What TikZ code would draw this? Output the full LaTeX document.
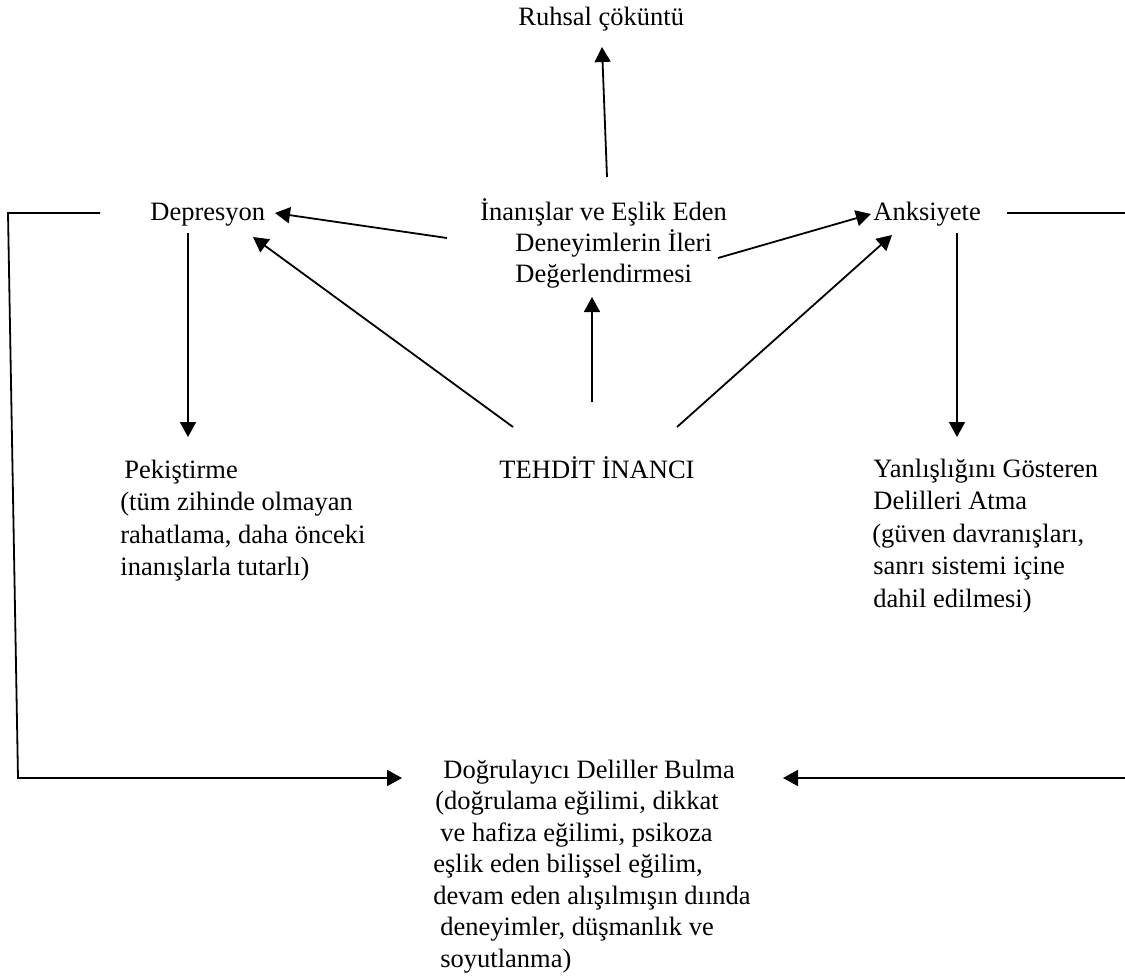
\documentclass[tikz,border=0pt]{standalone}
\usepackage{fontspec}
\setmainfont{Liberation Serif}
\usetikzlibrary{arrows.meta}
\begin{document}
\begin{tikzpicture}[x=0.5pt,y=-0.5pt,
  txt/.style={anchor=base west,inner sep=0pt,font=\fontsize{13.25pt}{16pt}\selectfont},
  link/.style={line width=0.9pt},
  arr/.style={link,-{Triangle[length=7.5pt,width=8pt]}}]
\useasboundingbox (0,0) rectangle (1125,980);

% top label
\node[txt] (ruhsal) at (518,25) {Ruhsal çöküntü};

% middle row
\node[txt] (dep) at (150,220) {Depresyon};
\node[txt] (inan1) at (480,220) {İnanışlar ve Eşlik Eden};
\node[txt] (inan2) at (515,251) {Deneyimlerin İleri};
\node[txt] (inan3) at (515,282) {Değerlendirmesi};
\node[txt] (anks) at (873,220) {Anksiyete};

% lower row
\node[txt] (pek1) at (124,478) {Pekiştirme};
\node[txt] (pek2) at (120,510) {(tüm zihinde olmayan};
\node[txt] (pek3) at (120,543) {rahatlama, daha önceki};
\node[txt] (pek4) at (120,575) {inanışlarla tutarlı)};

\node[txt,anchor=base] (tehdit) at (597,478) {TEHDİT İNANCI};

\node[txt] (yan1) at (873,477) {Yanlışlığını Gösteren};
\node[txt] (yan2) at (873,509.5) {Delilleri Atma};
\node[txt] (yan3) at (872,542) {(güven davranışları,};
\node[txt] (yan4) at (873,574.5) {sanrı sistemi içine};
\node[txt] (yan5) at (873,607) {dahil edilmesi)};

% bottom block
\node[txt] (dg1) at (443,778) {Doğrulayıcı Deliller Bulma};
\node[txt] (dg2) at (435,809.5) {(doğrulama eğilimi, dikkat};
\node[txt] (dg3) at (440,841) {ve hafiza eğilimi, psikoza};
\node[txt] (dg4) at (433,872.5) {eşlik eden bilişsel eğilim,};
\node[txt] (dg5) at (433,904) {devam eden alışılmışın dıında};
\node[txt] (dg6) at (440,935.5) {deneyimler, düşmanlık ve};
\node[txt] (dg7) at (440,967) {soyutlanma)};

% connector end points
\coordinate (inan-top) at (607,177);
\coordinate (ruhsal-in) at (602,47);
\coordinate (inan-left) at (447,238);
\coordinate (dep-right) at (275,213);
\coordinate (inan-right) at (718,258);
\coordinate (anks-left) at (871,214);
\coordinate (dep-out) at (188,233);
\coordinate (pek-in) at (188,437);
\coordinate (anks-out) at (957,233);
\coordinate (yan-in) at (957,437);
\coordinate (teh-left) at (513,427);
\coordinate (dep-low) at (253,237);
\coordinate (teh-right) at (677,427);
\coordinate (anks-low) at (892,235);
\coordinate (teh-top) at (592,402);
\coordinate (inan-bot) at (592,297);
\coordinate (dep-loop) at (100,213);
\coordinate (lc1) at (8,213);
\coordinate (lc2) at (18,778);
\coordinate (dg-left) at (402,778);
\coordinate (anks-loop) at (1007,213);
% the right-hand return line runs just past the page edge
\coordinate (rc1) at (1140,213);
\coordinate (rc2) at (1140,778);
\coordinate (dg-right) at (783,778);

% connectors
\draw[arr] (inan-top) -- (ruhsal-in);
\draw[arr] (inan-left) -- (dep-right);
\draw[arr] (inan-right) -- (anks-left);
\draw[arr] (dep-out) -- (pek-in);
\draw[arr] (anks-out) -- (yan-in);
\draw[arr] (teh-left) -- (dep-low);
\draw[arr] (teh-right) -- (anks-low);
\draw[arr] (teh-top) -- (inan-bot);
\draw[arr] (dep-loop) -- (lc1) -- (lc2) -- (dg-left);
\draw[arr] (anks-loop) -- (rc1) -- (rc2) -- (dg-right);
\end{tikzpicture}
\end{document}
